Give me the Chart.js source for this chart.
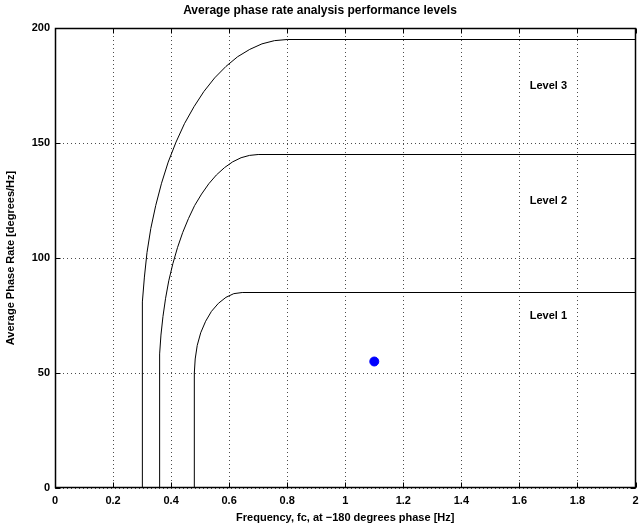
<!DOCTYPE html>
<html>
<head>
<meta charset="utf-8">
<title>Average phase rate analysis performance levels</title>
<script src="https://cdn.jsdelivr.net/npm/chart.js"></script>
<style>
  html, body { margin: 0; padding: 0; background: #fff; }
  #wrap { width: 641px; height: 531px; }
</style>
</head>
<body>
<div id="wrap"><canvas id="phaseChart"></canvas></div>
<script>
// curve data (frequency in Hz, rate in degrees/Hz)
const level1X = [0.48, 0.48, 0.483, 0.49, 0.502, 0.519, 0.539, 0.563, 0.589, 0.616, 0.645, 2];
const level1Y = [0, 50, 56.1, 62, 67.5, 72.5, 76.8, 80.3, 82.9, 84.5, 85, 85];

const level2X = [0.36, 0.36, 0.361, 0.365, 0.372, 0.381, 0.392, 0.406, 0.422, 0.44, 0.46, 0.481, 0.505, 0.53, 0.556, 0.584, 0.612, 0.641, 0.67, 0.7, 2];
const level2Y = [0, 50, 58.3, 66.5, 74.6, 82.5, 90.1, 97.5, 104.5, 111.1, 117.2, 122.8, 127.8, 132.3, 136.1, 139.3, 141.8, 143.6, 144.6, 145, 145];

const level3X = [0.3, 0.3, 0.302, 0.308, 0.317, 0.33, 0.347, 0.367, 0.39, 0.417, 0.446, 0.479, 0.513, 0.55, 0.589, 0.629, 0.671, 0.713, 0.756, 0.8, 2];
const level3Y = [0, 70, 80.9, 91.7, 102.4, 112.8, 122.8, 132.5, 141.7, 150.4, 158.4, 165.8, 172.4, 178.3, 183.3, 187.5, 190.7, 193.1, 194.5, 195, 195];

const pointX = [1.1];
const pointY = [55];

const levelNames = ['Level 1', 'Level 2', 'Level 3'];
const levelNameX = [1.7, 1.7, 1.7];
const levelNameY = [75, 125, 175];

const xTicks = [0, 0.2, 0.4, 0.6, 0.8, 1, 1.2, 1.4, 1.6, 1.8, 2];
const yTicks = [0, 50, 100, 150, 200];

const FONT = "'Liberation Sans', Arial, Helvetica, sans-serif";

function toPoints(xs, ys) {
  return xs.map((x, i) => ({ x: x, y: ys[i] }));
}

function curve(xs, ys) {
  return {
    data: toPoints(xs, ys),
    showLine: true,
    borderColor: '#000',
    borderWidth: 1,
    pointRadius: 0,
    tension: 0,
    fill: false,
  };
}

// box round the plot with inward tick marks, matlab style
const boxPlugin = {
  id: 'box',
  afterDatasetsDraw(chart) {
    const { ctx, chartArea: a, scales } = chart;
    const L = Math.round(a.left) + 0.5, R = Math.round(a.right) - 0.5;
    const T = Math.round(a.top) + 0.5, B = Math.round(a.bottom) - 0.5;
    ctx.save();
    ctx.strokeStyle = '#000';
    ctx.lineWidth = 1;
    ctx.beginPath();
    xTicks.forEach((v) => {
      const px = Math.round(scales.x.getPixelForValue(v)) + 0.5;
      ctx.moveTo(px, B); ctx.lineTo(px, B - 5);
      ctx.moveTo(px, T); ctx.lineTo(px, T + 5);
    });
    yTicks.forEach((v) => {
      const py = Math.round(scales.y.getPixelForValue(v)) + 0.5;
      ctx.moveTo(L, py); ctx.lineTo(L + 5, py);
      ctx.moveTo(R, py); ctx.lineTo(R - 5, py);
    });
    ctx.stroke();
    ctx.lineWidth = 1.5;
    ctx.strokeRect(L, T, R - L, B - T);
    ctx.restore();
  },
  afterDraw(chart) {
    const { ctx, scales } = chart;
    ctx.save();
    ctx.fillStyle = '#000';
    ctx.font = 'bold 11px ' + FONT;
    ctx.textAlign = 'center';
    ctx.textBaseline = 'middle';
    levelNames.forEach((name, i) => {
      ctx.fillText(name, scales.x.getPixelForValue(levelNameX[i]), scales.y.getPixelForValue(levelNameY[i]));
    });
    ctx.restore();
  },
};

new Chart(document.getElementById('phaseChart'), {
  type: 'scatter',
  data: {
    datasets: [
      curve(level1X, level1Y),
      curve(level2X, level2Y),
      curve(level3X, level3Y),
      {
        data: toPoints(pointX, pointY),
        backgroundColor: '#0000ff',
        borderColor: '#0000ff',
        pointRadius: 4.5,
        pointHoverRadius: 4.5,
        showLine: false,
      },
    ],
  },
  options: {
    responsive: true,
    maintainAspectRatio: false,
    animation: false,
    events: [],
    layout: { padding: { left: 0, right: 1, top: 0, bottom: 0 } },
    plugins: {
      legend: { display: false },
      tooltip: { enabled: false },
      title: {
        display: true,
        text: 'Average phase rate analysis performance levels',
        color: '#000',
        font: { family: FONT, size: 12, weight: 'bold' },
        padding: { top: 3, bottom: 10.6 },
      },
    },
    scales: {
      x: {
        type: 'linear',
        min: 0,
        max: 2,
        // the last label runs off the canvas edge in the original
        afterFit(s) { s.height = 43; s.paddingRight = 0; },
        afterBuildTicks(s) { s.ticks = xTicks.map((v) => ({ value: v })); },
        ticks: {
          color: '#000',
          padding: 6,
          font: { family: FONT, size: 11, weight: 'bold' },
          maxRotation: 0,
          callback: (v) => String(v),
        },
        grid: { color: 'rgba(0,0,0,0.7)', lineWidth: 1, drawTicks: false },
        border: { display: false, dash: [1, 3] },
        title: {
          display: true,
          text: 'Frequency, fc, at \u2212180 degrees phase [Hz]',
          color: '#000',
          font: { family: FONT, size: 11, weight: 'bold' },
          padding: { top: 0, bottom: 6 },
        },
      },
      y: {
        type: 'linear',
        min: 0,
        max: 200,
        afterFit(s) { s.width = 55; },
        afterBuildTicks(s) { s.ticks = yTicks.map((v) => ({ value: v })); },
        ticks: {
          color: '#000',
          padding: 5,
          font: { family: FONT, size: 11, weight: 'bold' },
        },
        grid: { color: 'rgba(0,0,0,0.7)', lineWidth: 1, drawTicks: false },
        border: { display: false, dash: [1, 3] },
        title: {
          display: true,
          text: 'Average Phase Rate [degrees/Hz]',
          color: '#000',
          font: { family: FONT, size: 11, weight: 'bold' },
          padding: { top: 4, bottom: 0 },
        },
      },
    },
  },
  plugins: [boxPlugin],
});
</script>
</body>
</html>
